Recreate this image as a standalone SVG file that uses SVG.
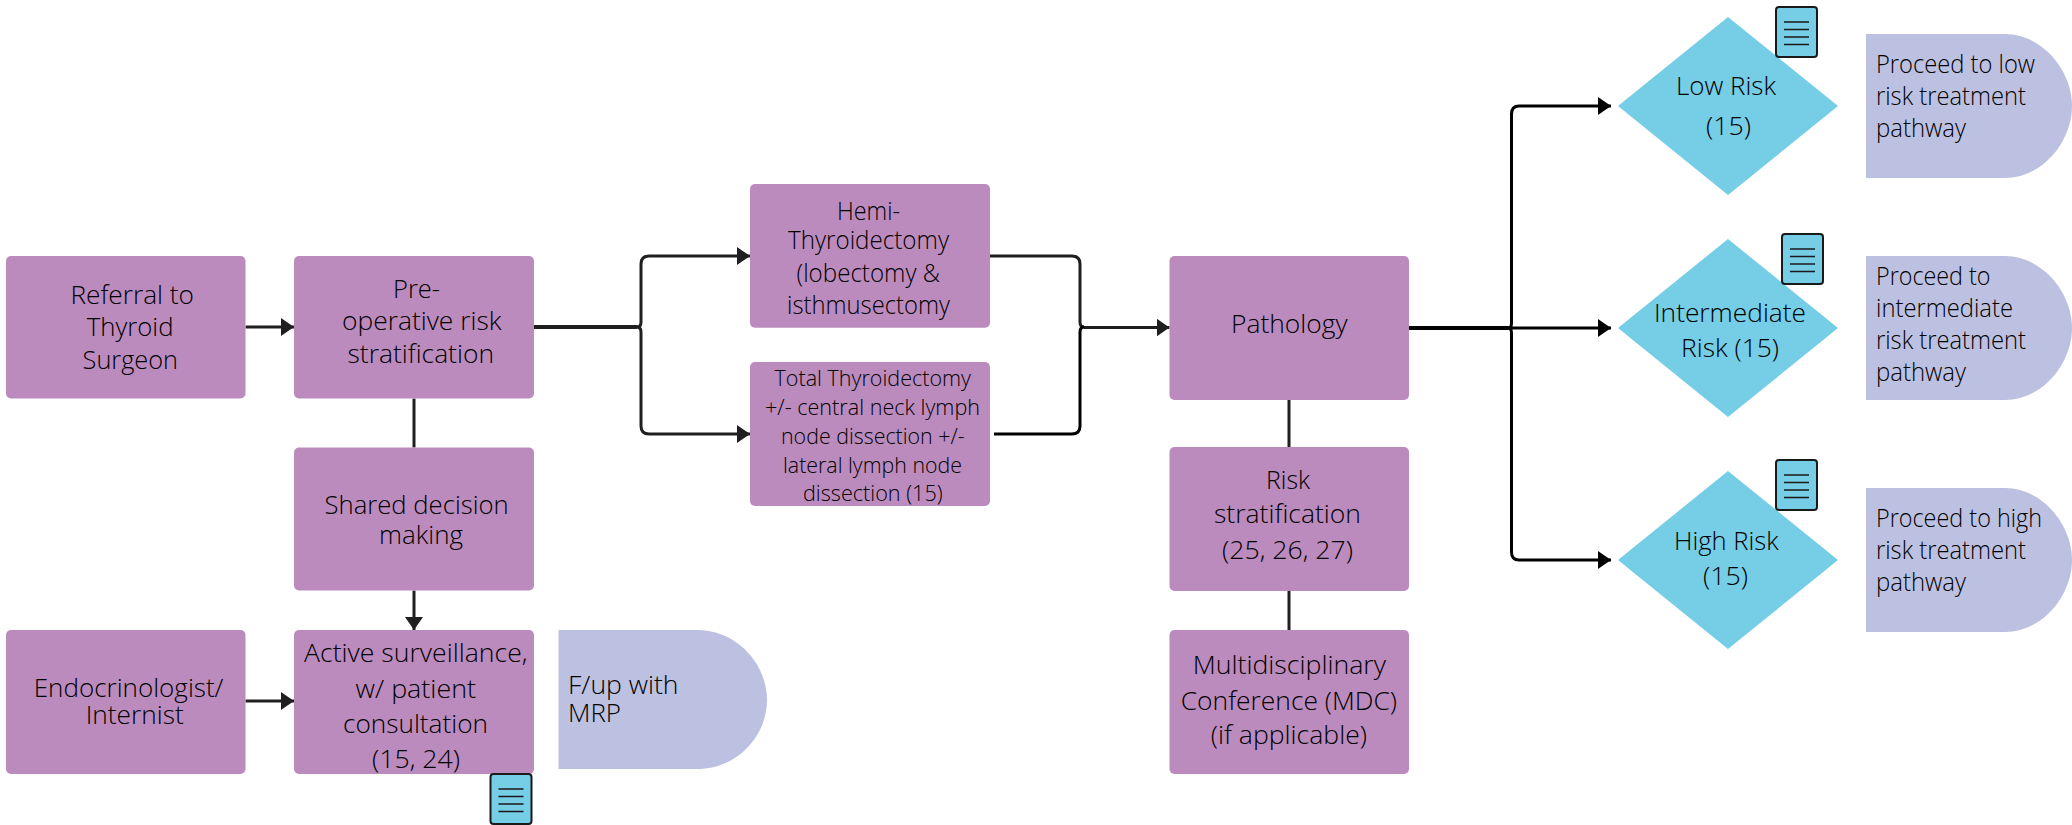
<svg xmlns="http://www.w3.org/2000/svg" width="2072" height="825" viewBox="0 0 2072 825">
<style>
.box{fill:#bc8bbe}
.dia{fill:#75cde6}
.off{fill:#bdc1e1}
.doc rect{fill:#75cde6;stroke:#1a1a1a;stroke-width:2}
.doc path{fill:none;stroke:#1a1a1a;stroke-width:1.6}
text{font-family:"Open Sans","Liberation Sans",sans-serif;font-weight:300;font-size:26px;fill:#000}
.s{font-size:22px}
.c{fill:none;stroke:#1f1f1f;stroke-width:3;stroke-linejoin:round}
.k{fill:none;stroke:#000;stroke-width:3;stroke-linejoin:round}
.t{stroke-width:4}
</style>
<defs>
<marker id="a" markerUnits="userSpaceOnUse" markerWidth="14" markerHeight="18" refX="13" refY="9" orient="auto"><path d="M0 0L13 9L0 18Z" fill="#1f1f1f"/></marker>
<marker id="b" markerUnits="userSpaceOnUse" markerWidth="14" markerHeight="18" refX="13" refY="9" orient="auto"><path d="M0 0L13 9L0 18Z" fill="#000"/></marker>
<g id="docicon" class="doc"><rect x="1" y="1" width="41" height="50" rx="3"/><path d="M9 16H34M9 23.500H34M9 31H34M9 38.500H34"/></g>
</defs>
<g id="connectors">
<path class="c" marker-end="url(#a)" d="M245.500 327H294"/>
<path class="c" marker-end="url(#a)" d="M245.500 701H294"/>
<path class="c" d="M414 398.500V447.500"/>
<path class="c" marker-end="url(#a)" d="M414 590.500V630"/>
<path class="c t" d="M534 327H637"/>
<path class="c" marker-end="url(#a)" d="M637 327Q641 327 641 322V264Q641 256 649 256H750"/>
<path class="c" marker-end="url(#a)" d="M637 327Q641 327 641 332V426Q641 434 649 434H750"/>
<path class="c" d="M990 256H1072Q1080 256 1080 264V322Q1080 327 1084 327"/>
<path class="k" d="M994 434H1072Q1080 434 1080 426V332Q1080 327 1084 327"/>
<path class="c" marker-end="url(#a)" d="M1084 327.500H1169.500"/>
<path class="c" d="M1289 400V447"/>
<path class="c" d="M1289 591V630"/>
<path class="k t" d="M1409 328H1508"/>
<path class="k" marker-end="url(#b)" d="M1508 328Q1511.500 328 1511.500 323V114Q1511.500 106 1519 106H1611"/>
<path class="k" marker-end="url(#b)" d="M1508 328H1611"/>
<path class="k" marker-end="url(#b)" d="M1508 328Q1511.500 328 1511.500 333V552Q1511.500 560 1519 560H1611"/>
</g>
<g id="referral"><rect class="box" x="6" y="256" width="239.500" height="142.500" rx="5"/>
<text x="70.400" y="304" textLength="123.600" lengthAdjust="spacingAndGlyphs">Referral to</text>
<text x="86.700" y="335.500" textLength="86.800" lengthAdjust="spacingAndGlyphs">Thyroid</text>
<text x="82.600" y="368.500" textLength="95.400" lengthAdjust="spacingAndGlyphs">Surgeon</text></g>
<g id="preop"><rect class="box" x="294" y="256" width="240" height="142.500" rx="5"/>
<text x="393" y="298" textLength="47" lengthAdjust="spacingAndGlyphs">Pre-</text>
<text x="342" y="330" textLength="159.500" lengthAdjust="spacingAndGlyphs">operative risk</text>
<text x="347.500" y="363" textLength="146.500" lengthAdjust="spacingAndGlyphs">stratification</text></g>
<g id="shared"><rect class="box" x="294" y="447.500" width="240" height="143" rx="5"/>
<text x="324.500" y="514" textLength="184.200" lengthAdjust="spacingAndGlyphs">Shared decision</text>
<text x="379" y="544" textLength="84" lengthAdjust="spacingAndGlyphs">making</text></g>
<g id="endo"><rect class="box" x="6" y="630" width="239.500" height="144" rx="5"/>
<text x="33.700" y="697" textLength="189.800" lengthAdjust="spacingAndGlyphs">Endocrinologist/</text>
<text x="85.700" y="724" textLength="98" lengthAdjust="spacingAndGlyphs">Internist</text></g>
<g id="active"><rect class="box" x="294" y="630" width="240" height="144" rx="5"/>
<text x="304" y="662" textLength="223.500" lengthAdjust="spacingAndGlyphs">Active surveillance,</text>
<text x="355.600" y="697.500" textLength="120.400" lengthAdjust="spacingAndGlyphs">w/ patient</text>
<text x="343" y="733" textLength="145" lengthAdjust="spacingAndGlyphs">consultation</text>
<text x="372" y="768" textLength="88" lengthAdjust="spacingAndGlyphs">(15, 24)</text></g>
<g id="active-doc"><use href="#docicon" x="489.500" y="773"/></g>
<g id="fup"><path class="off" d="M558.500 630H697C737 630 767 664 767 700C767 736 737 769 697 769H558.500Z"/>
<text x="568" y="694" textLength="110.500" lengthAdjust="spacingAndGlyphs">F/up with</text>
<text x="568" y="722" textLength="53" lengthAdjust="spacingAndGlyphs">MRP</text></g>
<g id="hemi"><rect class="box" x="750" y="184" width="240" height="143.700" rx="5"/>
<text x="837" y="220" textLength="63" lengthAdjust="spacingAndGlyphs">Hemi-</text>
<text x="788" y="249" textLength="161" lengthAdjust="spacingAndGlyphs">Thyroidectomy</text>
<text x="796.600" y="281.700" textLength="143.400" lengthAdjust="spacingAndGlyphs">(lobectomy &amp;</text>
<text x="787" y="313.700" textLength="163" lengthAdjust="spacingAndGlyphs">isthmusectomy</text></g>
<g id="total"><rect class="box" x="750" y="362" width="240" height="144" rx="5"/>
<text class="s" x="774.500" y="386" textLength="196.500" lengthAdjust="spacingAndGlyphs">Total Thyroidectomy</text>
<text class="s" x="765" y="415" textLength="215" lengthAdjust="spacingAndGlyphs">+/- central neck lymph</text>
<text class="s" x="781" y="444" textLength="183.600" lengthAdjust="spacingAndGlyphs">node dissection +/-</text>
<text class="s" x="783" y="473" textLength="179" lengthAdjust="spacingAndGlyphs">lateral lymph node</text>
<text class="s" x="803" y="501" textLength="139.600" lengthAdjust="spacingAndGlyphs">dissection (15)</text></g>
<g id="pathology"><rect class="box" x="1169.500" y="256" width="239.500" height="144" rx="5"/>
<text x="1231" y="333" textLength="116.500" lengthAdjust="spacingAndGlyphs">Pathology</text></g>
<g id="riskstrat"><rect class="box" x="1169.500" y="447" width="239.500" height="144" rx="5"/>
<text x="1266" y="489" textLength="44" lengthAdjust="spacingAndGlyphs">Risk</text>
<text x="1214" y="523" textLength="147" lengthAdjust="spacingAndGlyphs">stratification</text>
<text x="1222" y="558.500" textLength="131" lengthAdjust="spacingAndGlyphs">(25, 26, 27)</text></g>
<g id="mdc"><rect class="box" x="1169.500" y="630" width="239.500" height="144" rx="5"/>
<text x="1192.700" y="674" textLength="193.300" lengthAdjust="spacingAndGlyphs">Multidisciplinary</text>
<text x="1180.700" y="710" textLength="216.300" lengthAdjust="spacingAndGlyphs">Conference (MDC)</text>
<text x="1210.700" y="744" textLength="156.300" lengthAdjust="spacingAndGlyphs">(if applicable)</text></g>
<g id="low"><path class="dia" d="M1728 17L1838 106L1728 195L1618 106Z"/>
<text x="1676" y="94.700" textLength="100" lengthAdjust="spacingAndGlyphs">Low Risk</text>
<text x="1706" y="135" textLength="45" lengthAdjust="spacingAndGlyphs">(15)</text></g>
<g id="low-doc"><use href="#docicon" x="1775" y="6"/></g>
<g id="intermediate"><path class="dia" d="M1728 239L1838 328L1728 417L1618 328Z"/>
<text x="1654" y="322" textLength="152" lengthAdjust="spacingAndGlyphs">Intermediate</text>
<text x="1681" y="357" textLength="98" lengthAdjust="spacingAndGlyphs">Risk (15)</text></g>
<g id="intermediate-doc"><use href="#docicon" x="1781" y="233"/></g>
<g id="high"><path class="dia" d="M1728 471L1838 560L1728 649L1618 560Z"/>
<text x="1674" y="550" textLength="104.600" lengthAdjust="spacingAndGlyphs">High Risk</text>
<text x="1703" y="585" textLength="45" lengthAdjust="spacingAndGlyphs">(15)</text></g>
<g id="high-doc"><use href="#docicon" x="1775" y="459"/></g>
<g id="low-path"><path class="off" d="M1866 34H2005C2042 34 2072 70 2072 106C2072 142 2042 178 2005 178H1866Z"/>
<text x="1876" y="73" textLength="159" lengthAdjust="spacingAndGlyphs">Proceed to low</text>
<text x="1876" y="105" textLength="150" lengthAdjust="spacingAndGlyphs">risk treatment</text>
<text x="1876" y="137" textLength="90" lengthAdjust="spacingAndGlyphs">pathway</text></g>
<g id="intermediate-path"><path class="off" d="M1866 256H2005C2042 256 2072 292 2072 328C2072 364 2042 400 2005 400H1866Z"/>
<text x="1876" y="285" textLength="114.500" lengthAdjust="spacingAndGlyphs">Proceed to</text>
<text x="1876" y="317" textLength="137" lengthAdjust="spacingAndGlyphs">intermediate</text>
<text x="1876" y="349" textLength="150" lengthAdjust="spacingAndGlyphs">risk treatment</text>
<text x="1876" y="381" textLength="90" lengthAdjust="spacingAndGlyphs">pathway</text></g>
<g id="high-path"><path class="off" d="M1866 488H2005C2042 488 2072 524 2072 560C2072 596 2042 632 2005 632H1866Z"/>
<text x="1876" y="527" textLength="166" lengthAdjust="spacingAndGlyphs">Proceed to high</text>
<text x="1876" y="559" textLength="150" lengthAdjust="spacingAndGlyphs">risk treatment</text>
<text x="1876" y="591" textLength="90" lengthAdjust="spacingAndGlyphs">pathway</text></g>
</svg>
